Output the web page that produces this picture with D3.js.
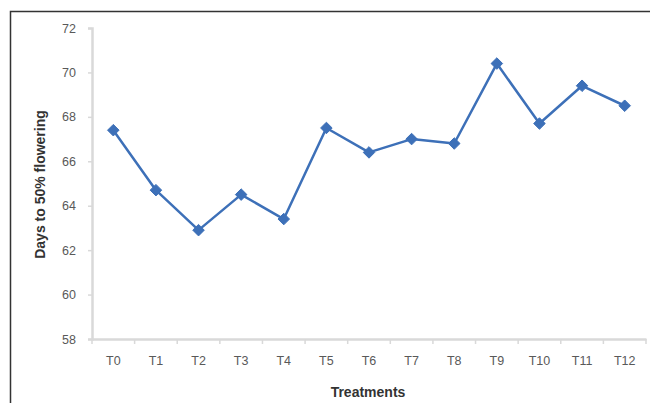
<!DOCTYPE html>
<html>
<head>
<meta charset="utf-8">
<script src="https://cdn.jsdelivr.net/npm/d3@7"></script>
<style>
  html, body { margin: 0; padding: 0; background: #fff; }
  svg { display: block; font-family: "Liberation Sans", Arial, sans-serif; }
</style>
</head>
<body>
<svg id="chart" width="650" height="403"></svg>
<script>
// Days to 50% flowering for each treatment
const treatments = ["T0","T1","T2","T3","T4","T5","T6","T7","T8","T9","T10","T11","T12"];
const daysToFlowering = [67.4, 64.7, 62.9, 64.5, 63.4, 67.5, 66.4, 67.0, 66.8, 70.4, 67.7, 69.4, 68.5];
const yTicks = [58, 60, 62, 64, 66, 68, 70, 72];

const svg = d3.select("#chart");
const W = 650, H = 403;
const plot = { left: 92, right: 646, top: 28, bottom: 339 };

// chart area frame
svg.append("rect")
  .attr("x", 10.5).attr("y", 11.5)
  .attr("width", W + 20).attr("height", H + 20)
  .attr("fill", "#fff").attr("stroke", "#333").attr("stroke-width", 1.5);

const x = d3.scaleBand().domain(treatments).range([plot.left, plot.right]);
const y = d3.scaleLinear().domain([58, 72]).range([plot.bottom, plot.top]);

// y axis
const yAxis = svg.append("g")
  .attr("transform", `translate(${plot.left},0)`)
  .call(d3.axisLeft(y).tickValues(yTicks).tickSize(4).tickPadding(12).tickFormat(d3.format("d")));
yAxis.select(".domain").attr("stroke", "#d9d9d9").attr("stroke-width", 2.5);
yAxis.selectAll(".tick line").attr("stroke", "#d9d9d9").attr("stroke-width", 1.5);
yAxis.selectAll(".tick text").attr("fill", "#595959").attr("font-size", 12.5);

// x axis with ticks between categories
const xAxis = svg.append("g")
  .attr("transform", `translate(0,${plot.bottom})`)
  .call(d3.axisBottom(x).tickSize(0).tickPadding(17));
xAxis.select(".domain").attr("stroke", "#d9d9d9").attr("stroke-width", 2.5);
xAxis.selectAll(".tick text").attr("fill", "#595959").attr("font-size", 12.5);
const bounds = treatments.map(t => x(t)).concat([plot.right]);
xAxis.selectAll("line.sep").data(bounds).enter().append("line")
  .attr("class", "sep")
  .attr("x1", d => d).attr("x2", d => d)
  .attr("y1", 0).attr("y2", 5)
  .attr("stroke", "#d9d9d9").attr("stroke-width", 1.5);

// axis titles
svg.append("text")
  .attr("transform", `translate(45,${(plot.top + plot.bottom) / 2 + 1}) rotate(-90)`)
  .attr("text-anchor", "middle")
  .attr("font-size", 14).attr("font-weight", "bold").attr("fill", "#333")
  .text("Days to 50% flowering");
svg.append("text")
  .attr("x", 368).attr("y", 397)
  .attr("text-anchor", "middle")
  .attr("font-size", 14).attr("font-weight", "bold").attr("fill", "#333")
  .text("Treatments");

// series line and diamond markers
const cx = d => x(d.t) + x.bandwidth() / 2;
const pts = treatments.map((t, i) => ({ t, v: daysToFlowering[i] }));
const color = "#3d70b8";
svg.append("path")
  .datum(pts)
  .attr("fill", "none").attr("stroke", color).attr("stroke-width", 2.5)
  .attr("stroke-linejoin", "round")
  .attr("d", d3.line().x(cx).y(d => y(d.v)));
svg.selectAll("path.marker").data(pts).enter().append("path")
  .attr("class", "marker")
  .attr("transform", d => `translate(${cx(d)},${y(d.v)})`)
  .attr("d", d3.symbol().type(d3.symbolDiamond2).size(85))
  .attr("fill", color).attr("stroke", color).attr("stroke-width", 1);
</script>
</body>
</html>
